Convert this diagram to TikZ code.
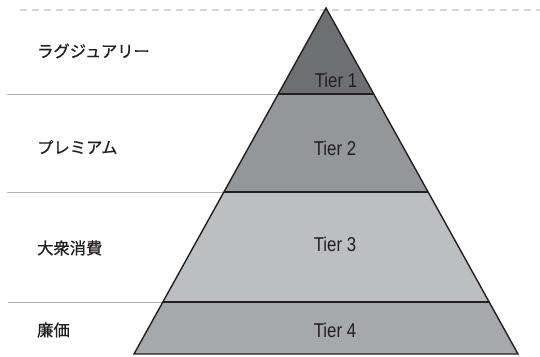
\documentclass[tikz,border=0pt]{standalone}
\usepackage{fontspec}
\setmainfont{Liberation Sans}
\newfontfamily\jpfont[FakeBold=0.7]{Noto Sans CJK JP}
\newfontfamily\tierfont[FakeStretch=0.84]{Liberation Sans}
\definecolor{tonei}{RGB}{110,111,113}
\definecolor{ttwo}{RGB}{148,150,153}
\definecolor{tthree}{RGB}{189,190,192}
\definecolor{tfour}{RGB}{166,168,171}
\definecolor{guide}{RGB}{178,178,178}
\definecolor{dashc}{RGB}{215,215,215}
\definecolor{ink}{RGB}{35,31,32}
\begin{document}
\begin{tikzpicture}[x=1pt,y=-1pt,
  tierpoly/.style={draw=ink,line width=1.4pt,line join=miter},
  guideline/.style={draw=guide,line width=0.8pt},
  jplabel/.style={anchor=west,inner sep=0pt,font=\jpfont\fontsize{16.3}{17}\selectfont,text=ink},
  tierlabel/.style={inner sep=0pt,font=\tierfont\fontsize{20}{21}\selectfont,text=ink}]
\useasboundingbox (0,0) rectangle (540,356);
% dashed top line
\coordinate (dl) at (20,10);
\coordinate (dr) at (540,10);
\draw[dashc,line width=1.2pt,dash pattern=on 7pt off 5pt] (dl) -- (dr);
% pyramid points
\coordinate (apex) at (326,8);
\coordinate (l1) at (278,94);  \coordinate (r1) at (374,94);
\coordinate (l2) at (224,192); \coordinate (r2) at (428,192);
\coordinate (l3) at (163,302); \coordinate (r3) at (489,302);
\coordinate (l4) at (134,354); \coordinate (r4) at (518,354);
% guide lines
\coordinate (g1) at (7,94);
\coordinate (g2) at (7,192);
\coordinate (g3) at (8,302);
\draw[guideline] (g1) -- (l1);
\draw[guideline] (g2) -- (l2);
\draw[guideline] (g3) -- (l3);
% tiers
\fill[tonei] (apex) -- (r1) -- (l1) -- cycle;
\fill[ttwo] (l1) -- (r1) -- (r2) -- (l2) -- cycle;
\fill[tthree] (l2) -- (r2) -- (r3) -- (l3) -- cycle;
\fill[tfour] (l3) -- (r3) -- (r4) -- (l4) -- cycle;
\draw[tierpoly] (l1) -- (r1) (l2) -- (r2) (l3) -- (r3);
\draw[tierpoly] (apex) -- (r4) -- (l4) -- cycle;
% tier labels
\node[tierlabel] (t1) at (336,80) {Tier 1};
\node[tierlabel] (t2) at (335,148) {Tier 2};
\node[tierlabel] (t3) at (335,244) {Tier 3};
\node[tierlabel] (t4) at (335,330) {Tier 4};
% left labels
\node[jplabel] (j1) at (37,51) {ラグジュアリー};
\node[jplabel] (j2) at (37,147) {プレミアム};
\node[jplabel] (j3) at (37,248) {大衆消費};
\node[jplabel] (j4) at (37,330) {廉価};
\end{tikzpicture}
\end{document}
